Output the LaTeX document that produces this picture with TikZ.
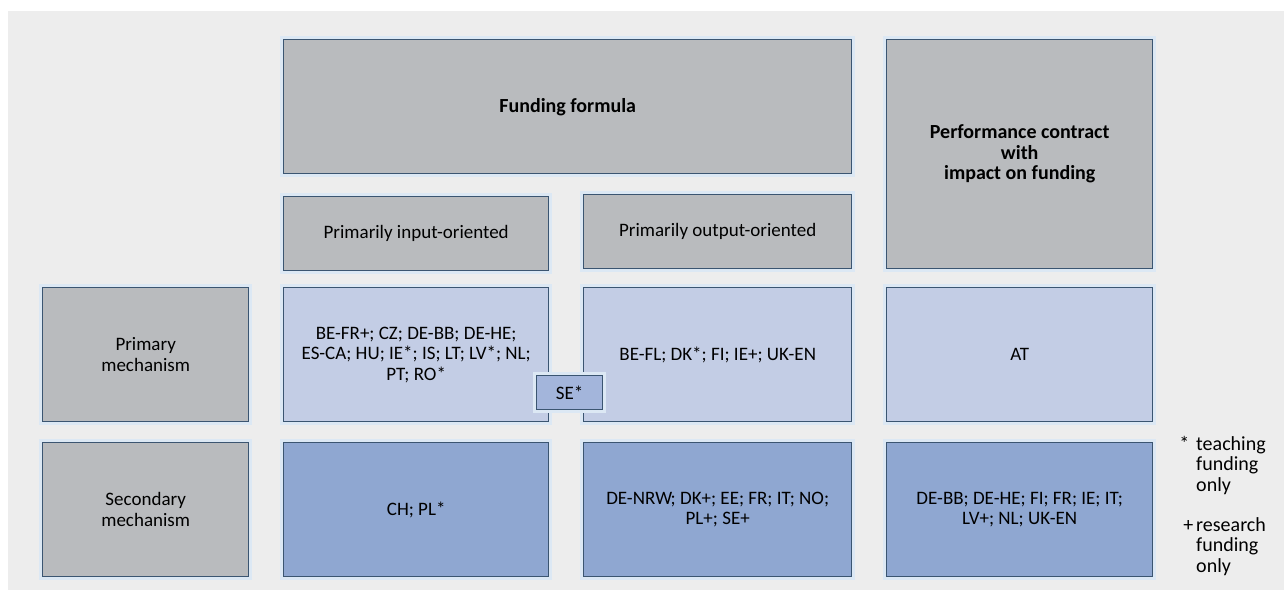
\documentclass[tikz,border=0pt]{standalone}
\usepackage{fontspec}
\setmainfont{Carlito}
\definecolor{bgc}{HTML}{EDEDED}
\definecolor{glow}{HTML}{DCE8F4}
\definecolor{edge}{HTML}{3B5571}
\definecolor{grayf}{HTML}{B9BBBE}
\definecolor{lblue}{HTML}{C3CDE5}
\definecolor{dblue}{HTML}{8FA7D1}
\definecolor{mblue}{HTML}{A3B5DB}
\tikzset{
  cell/.style={draw=edge, line width=1.4pt, inner sep=0pt, align=center,
    anchor=north west, font=\fontsize{19}{20.5}\selectfont,
    preaction={draw=glow, line width=7pt}},
  graycell/.style={cell, fill=grayf},
  lightcell/.style={cell, fill=lblue},
  darkcell/.style={cell, fill=dblue},
  secell/.style={cell, fill=mblue, preaction={}},
  headfont/.style={font=\fontsize{20}{20.5}\selectfont\bfseries},
  legend/.style={anchor=north west, inner sep=0pt, align=left, font=\fontsize{20}{20.5}\selectfont}
}
\begin{document}
\begin{tikzpicture}[x=1pt, y=-1pt]
\useasboundingbox (0,0) rectangle (1284,590);
\fill[white] (0,0) rectangle (1284,590);
\fill[bgc] (8,11) rectangle (1284,590);
% header
\node[graycell, headfont, minimum width=568pt, minimum height=134pt] (ff) at (283,39) {Funding formula};
\node[graycell, headfont, minimum width=266pt, minimum height=229pt] (pc) at (886,39) {Performance contract\\with\\impact on funding};
\node[graycell, minimum width=265pt, minimum height=74pt] (inp) at (283,196) {Primarily input-oriented};
\node[graycell, minimum width=268pt, minimum height=74pt] (outp) at (583,194) {Primarily output-oriented};
% row labels
\node[graycell, minimum width=206pt, minimum height=134pt] (prim) at (42,287) {Primary\\mechanism};
\node[graycell, minimum width=206pt, minimum height=134pt] (sec) at (42,442) {Secondary\\mechanism};
% primary row
\node[lightcell, minimum width=265pt, minimum height=134pt] (p1) at (283,287) {BE-FR+; CZ; DE-BB; DE-HE;\\ES-CA; HU; IE*; IS; LT; LV*; NL;\\PT; RO*};
\node[lightcell, minimum width=268pt, minimum height=134pt] (p2) at (583,287) {BE-FL; DK*; FI; IE+; UK-EN};
\node[lightcell, minimum width=266pt, minimum height=134pt] (p3) at (886,287) {AT};
% secondary row
\node[darkcell, minimum width=265pt, minimum height=134pt] (s1) at (283,442) {CH; PL*};
\node[darkcell, minimum width=268pt, minimum height=134pt] (s2) at (583,442) {DE-NRW; DK+; EE; FR; IT; NO;\\PL+; SE+};
\node[darkcell, minimum width=266pt, minimum height=134pt] (s3) at (886,442) {DE-BB; DE-HE; FI; FR; IE; IT;\\LV+; NL; UK-EN};
% SE* overlap
\node[secell, minimum width=66pt, minimum height=34pt] (se) at (536,375) {SE*};
% legend
\node[legend] (l1) at (1196,436) {\llap{*\hspace{7pt}}teaching\\funding\\only};
\node[legend] (l2) at (1196,517) {\llap{+\hspace{3pt}}research\\funding\\only};
\end{tikzpicture}
\end{document}
